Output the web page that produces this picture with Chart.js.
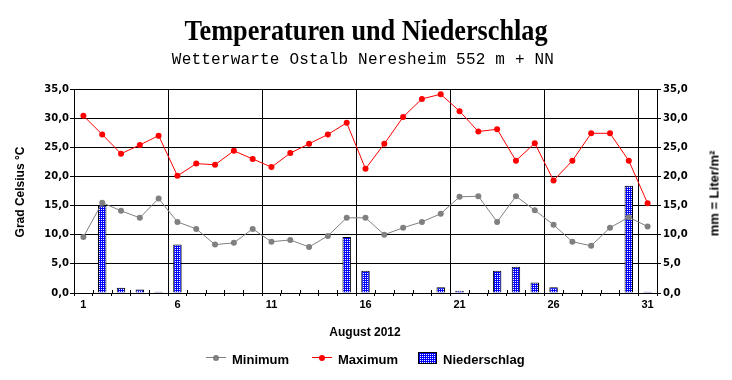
<!DOCTYPE html>
<html>
<head>
<meta charset="utf-8">
<script src="https://cdn.jsdelivr.net/npm/chart.js@4.4.1/dist/chart.umd.min.js"></script>
<style>
  body { margin: 0; background: #fff; }
  #wrap { position: relative; width: 732px; height: 380px; overflow: hidden; }
  #wrap canvas { position: absolute; left: 0; top: 0; }
  .txt { position: absolute; white-space: nowrap; line-height: 1; color: #000; }
  .title { font: bold 29px "Liberation Serif", serif; left: 0; width: 732px; text-align: center; top: 14px; transform: scaleX(0.905); }
  .sub { font: 16px "Liberation Mono", monospace; letter-spacing: 0.2px; left: -3px; width: 732px; text-align: center; top: 50.5px; }
  .ax { font: bold 12px "Liberation Sans", Arial, sans-serif; }
  .lg { font: bold 13px "Liberation Sans", Arial, sans-serif; top: 352px; }
  .mk { position: absolute; top: 351px; width: 20px; height: 13px; }
  .mk .ln { position: absolute; left: 0; right: 0; top: 6px; height: 1px; }
  .mk .dt { position: absolute; left: 7px; top: 3.5px; width: 6px; height: 6px; border-radius: 50%; }
  .box { position: absolute; top: 352px; left: 418px; width: 17px; height: 10px; border: 1px solid #000;
         background: conic-gradient(from 90deg at 1px 1px, #fff 0 25%, #0000ff 0) 0 0 / 2px 2px; }
</style>
</head>
<body>
<div id="wrap">
  <canvas id="weatherChart" width="732" height="380"></canvas>
  <div class="txt title">Temperaturen und Niederschlag</div>
  <div class="txt sub">Wetterwarte Ostalb Neresheim 552 m + NN</div>
  <div class="txt ax" style="left:-30px; width:100px; text-align:center; top:185px; transform:rotate(-90deg);">Grad Celsius °C</div>
  <div class="txt ax" style="font-size:13px; left:664px; width:100px; text-align:center; top:186px; transform:rotate(-90deg);">mm = Liter/m²</div>
  <div class="txt ax" style="left:315px; width:100px; text-align:center; top:325px;">August 2012</div>

  <div class="mk" style="left:206px;"><div class="ln" style="background:#808080"></div><div class="dt" style="background:#808080"></div></div>
  <div class="txt lg" style="left:232px;">Minimum</div>
  <div class="mk" style="left:312px;"><div class="ln" style="background:#ff0000"></div><div class="dt" style="background:#ff0000"></div></div>
  <div class="txt lg" style="left:338px;">Maximum</div>
  <div class="box"></div>
  <div class="txt lg" style="left:443px;">Niederschlag</div>
</div>

<script>
  // Tage im August 2012
  const days = [
    "1", "2", "3", "4", "5", "6", "7", "8", "9", "10",
    "11", "12", "13", "14", "15", "16", "17", "18", "19", "20",
    "21", "22", "23", "24", "25", "26", "27", "28", "29", "30", "31",
  ];

  // Tagesminimum der Temperatur (°C)
  const tempMin = [
    9.6, 15.5, 14.1, 12.9, 16.2, 12.2, 11.0, 8.3, 8.6, 11.0,
    8.8, 9.1, 7.9, 9.8, 12.9, 12.9, 10.0, 11.2, 12.2, 13.6,
    16.5, 16.6, 12.2, 16.6, 14.2, 11.7, 8.8, 8.1, 11.2, 13.0, 11.4,
  ];

  // Tagesmaximum der Temperatur (°C)
  const tempMax = [
    30.4, 27.2, 23.9, 25.4, 27.0, 20.1, 22.2, 22.0, 24.4, 23.0,
    21.6, 24.0, 25.6, 27.2, 29.2, 21.3, 25.6, 30.2, 33.3, 34.1,
    31.2, 27.7, 28.1, 22.7, 25.7, 19.3, 22.7, 27.4, 27.4, 22.7, 15.4,
  ];

  // Niederschlag (mm = Liter/m²)
  const precip = [
    0, 15.0, 0.9, 0.6, 0.2, 8.3, 0, 0, 0, 0,
    0, 0, 0, 0, 9.6, 3.8, 0, 0, 0, 1.0,
    0.4, 0, 3.8, 4.5, 1.8, 1.0, 0, 0, 0, 18.4, 0.2,
  ];

  // Achsenwerte
  const axisMin = 0;
  const axisMax = 35;
  const axisStep = 5;

  const colors = {
    black: "#000000",
    red: "#ff0000",
    grey: "#808080",
    blue: "#0000ff",
    white: "#ffffff",
  };

  // blau/weiss gepunktetes Fuellmuster fuer die Balken
  function makePattern() {
    const c = document.createElement("canvas");
    c.width = 2;
    c.height = 2;
    const g = c.getContext("2d");
    g.fillStyle = colors.blue;
    g.fillRect(0, 0, 2, 2);
    g.fillStyle = colors.white;
    g.fillRect(1, 1, 1, 1);
    return g.createPattern(c, "repeat");
  }

  const tickFmt = (v) => v.toFixed(1).replace(".", ",");

  // kleine Teilstriche an jeder Tagesgrenze, nach innen
  const innerTicks = {
    id: "innerTicks",
    afterDraw(chart) {
      const xs = chart.scales.x;
      const area = chart.chartArea;
      const n = days.length;
      const g = chart.ctx;
      g.save();
      g.strokeStyle = colors.black;
      g.lineWidth = 1;
      g.beginPath();
      for (let i = 1; i < n; i++) {
        const px = Math.round((xs.getPixelForTick(i) + xs.getPixelForTick(i - 1)) / 2) + 0.5;
        g.moveTo(px, area.bottom);
        g.lineTo(px, area.bottom - 3);
      }
      g.stroke();
      g.restore();
    },
  };

  const ctx = document.getElementById("weatherChart");
  const pattern = makePattern();

  new Chart(ctx, {
    type: "bar",
    data: {
      labels: days,
      datasets: [
        {
          type: "line",
          label: "Minimum",
          data: tempMin,
          yAxisID: "y",
          borderColor: colors.grey,
          backgroundColor: colors.grey,
          borderWidth: 1,
          pointRadius: 3,
          pointBorderWidth: 0,
          pointBackgroundColor: colors.grey,
          tension: 0,
          order: 2,
        },
        {
          type: "line",
          label: "Maximum",
          data: tempMax,
          yAxisID: "y",
          borderColor: colors.red,
          backgroundColor: colors.red,
          borderWidth: 1,
          pointRadius: 3,
          pointBorderWidth: 0,
          pointBackgroundColor: colors.red,
          tension: 0,
          order: 1,
        },
        {
          label: "Niederschlag",
          data: precip,
          yAxisID: "y1",
          backgroundColor: pattern,
          borderColor: colors.black,
          borderWidth: 1,
          categoryPercentage: 1,
          barPercentage: 0.45,
          order: 3,
        },
      ],
    },
    options: {
      responsive: false,
      devicePixelRatio: 1,
      animation: false,
      layout: { padding: { top: 89, left: 0, right: 0, bottom: 0 } },
      plugins: {
        legend: { display: false },
        title: { display: false },
        tooltip: { enabled: false },
      },
      scales: {
        x: {
          offset: true,
          afterFit: (scale) => { scale.height = 87; },
          border: { display: true, color: colors.black, width: 1 },
          grid: {
            offset: true,
            color: (c) => (c.index > 0 && c.index % 5 === 0 ? colors.black : "rgba(0,0,0,0)"),
            tickColor: colors.black,
            tickLength: 3,
            lineWidth: 1,
          },
          ticks: {
            autoSkip: false,
            maxRotation: 0,
            padding: 2,
            color: colors.black,
            font: { family: "'Liberation Sans', Arial, sans-serif", size: 11, weight: "bold" },
            callback: function (value, index) {
              return index % 5 === 0 ? days[index] : "";
            },
          },
        },
        y: {
          position: "left",
          min: axisMin,
          max: axisMax,
          afterFit: (scale) => { scale.width = 74; },
          border: { display: true, color: colors.black, width: 1 },
          grid: { color: colors.black, tickColor: colors.black, tickLength: 4, lineWidth: 1 },
          ticks: {
            stepSize: axisStep,
            padding: 1,
            color: colors.black,
            font: { family: "'DejaVu Sans', sans-serif", size: 10, weight: "bold" },
            callback: tickFmt,
          },
        },
        y1: {
          position: "right",
          min: axisMin,
          max: axisMax,
          afterFit: (scale) => { scale.width = 75; },
          border: { display: true, color: colors.black, width: 1 },
          grid: { drawOnChartArea: false, tickColor: colors.black, tickLength: 4 },
          ticks: {
            stepSize: axisStep,
            padding: 2,
            color: colors.black,
            font: { family: "'DejaVu Sans', sans-serif", size: 10, weight: "bold" },
            callback: tickFmt,
          },
        },
      },
    },
    plugins: [innerTicks],
  });
</script>
</body>
</html>
